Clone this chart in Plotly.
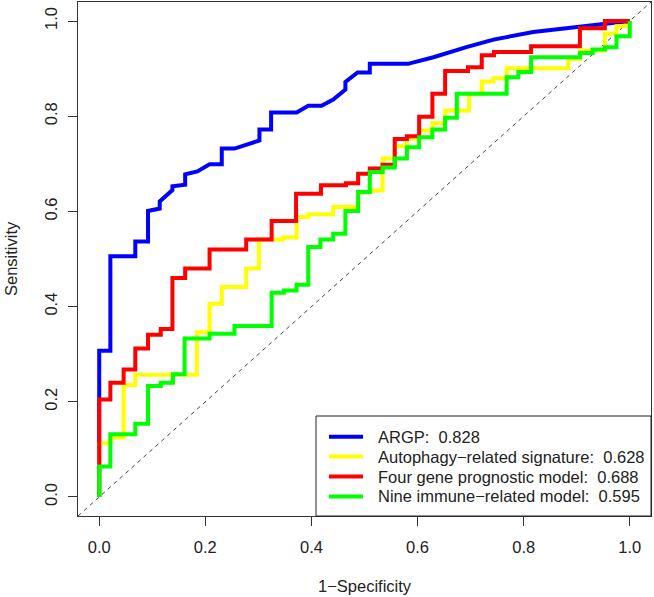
import plotly.graph_objects as go

# ---- data ----
tick_vals = [0.0, 0.2, 0.4, 0.6, 0.8, 1.0]
tick_text = ["0.0", "0.2", "0.4", "0.6", "0.8", "1.0"]

argp_fpr = [0, 0, 0.021, 0.021, 0.068, 0.068, 0.092, 0.092, 0.114, 0.114, 0.138, 0.138, 0.162, 0.162,
            0.185, 0.208, 0.231, 0.231, 0.255, 0.302, 0.302, 0.324, 0.324, 0.372, 0.394, 0.419, 0.441,
            0.464, 0.464, 0.487, 0.510, 0.510, 0.582, 0.630, 0.692, 0.743, 0.818, 0.912, 1.0]
argp_tpr = [0, 0.307, 0.307, 0.506, 0.506, 0.537, 0.537, 0.601, 0.606, 0.621, 0.645, 0.653, 0.656, 0.678,
            0.684, 0.699, 0.699, 0.732, 0.732, 0.749, 0.772, 0.772, 0.808, 0.808, 0.822, 0.822, 0.835,
            0.856, 0.872, 0.892, 0.892, 0.910, 0.910, 0.924, 0.945, 0.961, 0.977, 0.989, 1.0]

auto_fpr = [0, 0, 0.021, 0.021, 0.046, 0.046, 0.068, 0.068, 0.184, 0.184, 0.208, 0.208, 0.231, 0.231,
            0.277, 0.277, 0.301, 0.301, 0.346, 0.346, 0.372, 0.372, 0.394, 0.394, 0.441, 0.441, 0.488,
            0.488, 0.510, 0.510, 0.534, 0.534, 0.557, 0.557, 0.580, 0.580, 0.603, 0.603, 0.628, 0.628,
            0.652, 0.652, 0.697, 0.697, 0.721, 0.721, 0.743, 0.743, 0.768, 0.768, 0.884, 0.884, 0.906,
            0.906, 0.953, 0.953, 0.975, 0.975, 1.0, 1.0]
auto_tpr = [0, 0.113, 0.113, 0.125, 0.125, 0.235, 0.235, 0.257, 0.257, 0.346, 0.346, 0.406, 0.406, 0.441,
            0.441, 0.480, 0.480, 0.541, 0.541, 0.545, 0.545, 0.588, 0.588, 0.594, 0.594, 0.609, 0.609,
            0.640, 0.640, 0.644, 0.644, 0.711, 0.711, 0.737, 0.737, 0.753, 0.753, 0.770, 0.770, 0.786,
            0.786, 0.812, 0.812, 0.846, 0.846, 0.873, 0.873, 0.880, 0.880, 0.901, 0.901, 0.920, 0.920,
            0.938, 0.938, 0.974, 0.974, 0.989, 0.989, 1.0]

four_fpr = [0, 0, 0.021, 0.021, 0.046, 0.046, 0.068, 0.068, 0.092, 0.092, 0.116, 0.116, 0.138, 0.138,
            0.162, 0.162, 0.208, 0.208, 0.277, 0.277, 0.325, 0.325, 0.371, 0.371, 0.418, 0.418, 0.465,
            0.465, 0.488, 0.488, 0.510, 0.510, 0.534, 0.534, 0.557, 0.557, 0.580, 0.580, 0.603, 0.603,
            0.628, 0.628, 0.652, 0.652, 0.695, 0.695, 0.721, 0.721, 0.744, 0.744, 0.814, 0.814, 0.906,
            0.906, 0.953, 0.953, 1.0]
four_tpr = [0, 0.205, 0.205, 0.240, 0.240, 0.268, 0.268, 0.312, 0.312, 0.341, 0.341, 0.353, 0.353, 0.460,
            0.460, 0.480, 0.480, 0.520, 0.520, 0.541, 0.541, 0.580, 0.580, 0.637, 0.637, 0.655, 0.655,
            0.659, 0.659, 0.679, 0.679, 0.690, 0.690, 0.698, 0.698, 0.752, 0.752, 0.758, 0.758, 0.799,
            0.799, 0.847, 0.847, 0.895, 0.895, 0.903, 0.903, 0.928, 0.928, 0.935, 0.935, 0.947, 0.947,
            0.985, 0.985, 1.0, 1.0]

nine_fpr = [0, 0, 0.021, 0.021, 0.068, 0.068, 0.092, 0.092, 0.116, 0.116, 0.139, 0.139, 0.161, 0.161,
            0.208, 0.208, 0.255, 0.255, 0.325, 0.325, 0.348, 0.348, 0.372, 0.372, 0.394, 0.394, 0.417,
            0.417, 0.441, 0.441, 0.464, 0.464, 0.488, 0.488, 0.510, 0.510, 0.534, 0.534, 0.557, 0.557,
            0.580, 0.580, 0.603, 0.603, 0.628, 0.628, 0.652, 0.652, 0.674, 0.674, 0.768, 0.768, 0.790,
            0.790, 0.814, 0.814, 0.906, 0.906, 0.930, 0.930, 0.953, 0.953, 0.975, 0.975, 1.0, 1.0]
nine_tpr = [0, 0.064, 0.064, 0.132, 0.132, 0.154, 0.154, 0.233, 0.233, 0.240, 0.240, 0.258, 0.258, 0.333,
            0.333, 0.343, 0.343, 0.359, 0.359, 0.429, 0.429, 0.434, 0.434, 0.446, 0.446, 0.525, 0.525,
            0.541, 0.541, 0.553, 0.553, 0.601, 0.601, 0.641, 0.641, 0.683, 0.683, 0.692, 0.692, 0.711,
            0.711, 0.735, 0.735, 0.756, 0.756, 0.772, 0.772, 0.797, 0.797, 0.847, 0.847, 0.882, 0.882,
            0.893, 0.893, 0.924, 0.924, 0.933, 0.933, 0.940, 0.940, 0.945, 0.945, 0.968, 0.968, 1.0]

names = ["ARGP:\u00a0\u00a00.828",
         "Autophagy\u2212related signature:\u00a0\u00a00.628",
         "Four gene prognostic model:\u00a0\u00a00.688",
         "Nine immune\u2212related model:\u00a0\u00a00.595"]
colors = ["#0000FF", "#FFFF00", "#FF0000", "#00FF00"]
series = [(argp_fpr, argp_tpr), (auto_fpr, auto_tpr), (four_fpr, four_tpr), (nine_fpr, nine_tpr)]

FONT = "Liberation Sans, Arial, Helvetica, sans-serif"
TXT = "#222222"
W, H = 654, 597
L, R, T, B = 78, 3, 2, 81
PW, PH = W - L - R, H - T - B


def px(xp):
    return (xp - L) / PW


def py(yp):
    return (H - B - yp) / PH


fig = go.Figure()
for (fx, ty), nm, c in zip(series, names, colors):
    fig.add_trace(go.Scatter(x=fx, y=ty, mode="lines", name=nm,
                             line=dict(color=c, width=4), hoverinfo="skip"))

axis_common = dict(range=[-0.04, 1.04], tickvals=tick_vals, ticktext=tick_text,
                   ticks="outside", ticklen=9, tickwidth=1, tickcolor="#333333",
                   showgrid=False, zeroline=False, showline=True, mirror=True,
                   linecolor="#333333", linewidth=1, automargin=False,
                   tickfont=dict(family=FONT, size=16.5, color=TXT), fixedrange=True)

# legend drawn as box + sample lines + text (R-style legend)
shapes = [
    dict(type="line", xref="paper", yref="paper", x0=0, y0=0, x1=1, y1=1,
         line=dict(color="#444444", width=1, dash="4px,4px"), layer="below"),
    dict(type="rect", xref="paper", yref="paper", x0=px(316), x1=1, y0=0, y1=py(416),
         line=dict(color="#222222", width=1), fillcolor="white", layer="above"),
]
annotations = [
    dict(text="1\u2212Specificity", xref="paper", yref="paper", x=0.5, y=py(586),
         xanchor="center", yanchor="middle", showarrow=False,
         font=dict(family=FONT, size=16.5, color=TXT)),
    dict(text="Sensitivity", xref="paper", yref="paper", x=px(11), y=0.5, textangle=-90,
         xanchor="center", yanchor="middle", showarrow=False,
         font=dict(family=FONT, size=16.5, color=TXT)),
]
for i, (nm, c) in enumerate(zip(names, colors)):
    row_y = 436.7 + 19.9 * i
    shapes.append(dict(type="line", xref="paper", yref="paper", x0=px(329), x1=px(363),
                       y0=py(row_y), y1=py(row_y), line=dict(color=c, width=4), layer="above"))
    annotations.append(dict(text=nm, xref="paper", yref="paper", x=px(376), y=py(row_y),
                            xanchor="left", yanchor="middle", showarrow=False,
                            font=dict(family=FONT, size=16.5, color=TXT)))

fig.update_layout(
    width=W, height=H,
    margin=dict(l=L, r=R, t=T, b=B),
    paper_bgcolor="white", plot_bgcolor="white",
    xaxis=dict(**axis_common, ticklabelstandoff=7),
    yaxis=dict(**axis_common, tickangle=-90, ticklabelstandoff=4),
    showlegend=False,
    shapes=shapes,
    annotations=annotations,
)

fig.write_html("out.html", config={"displayModeBar": False, "staticPlot": True},
               post_script="document.body.style.margin='0';document.body.style.padding='0';")
